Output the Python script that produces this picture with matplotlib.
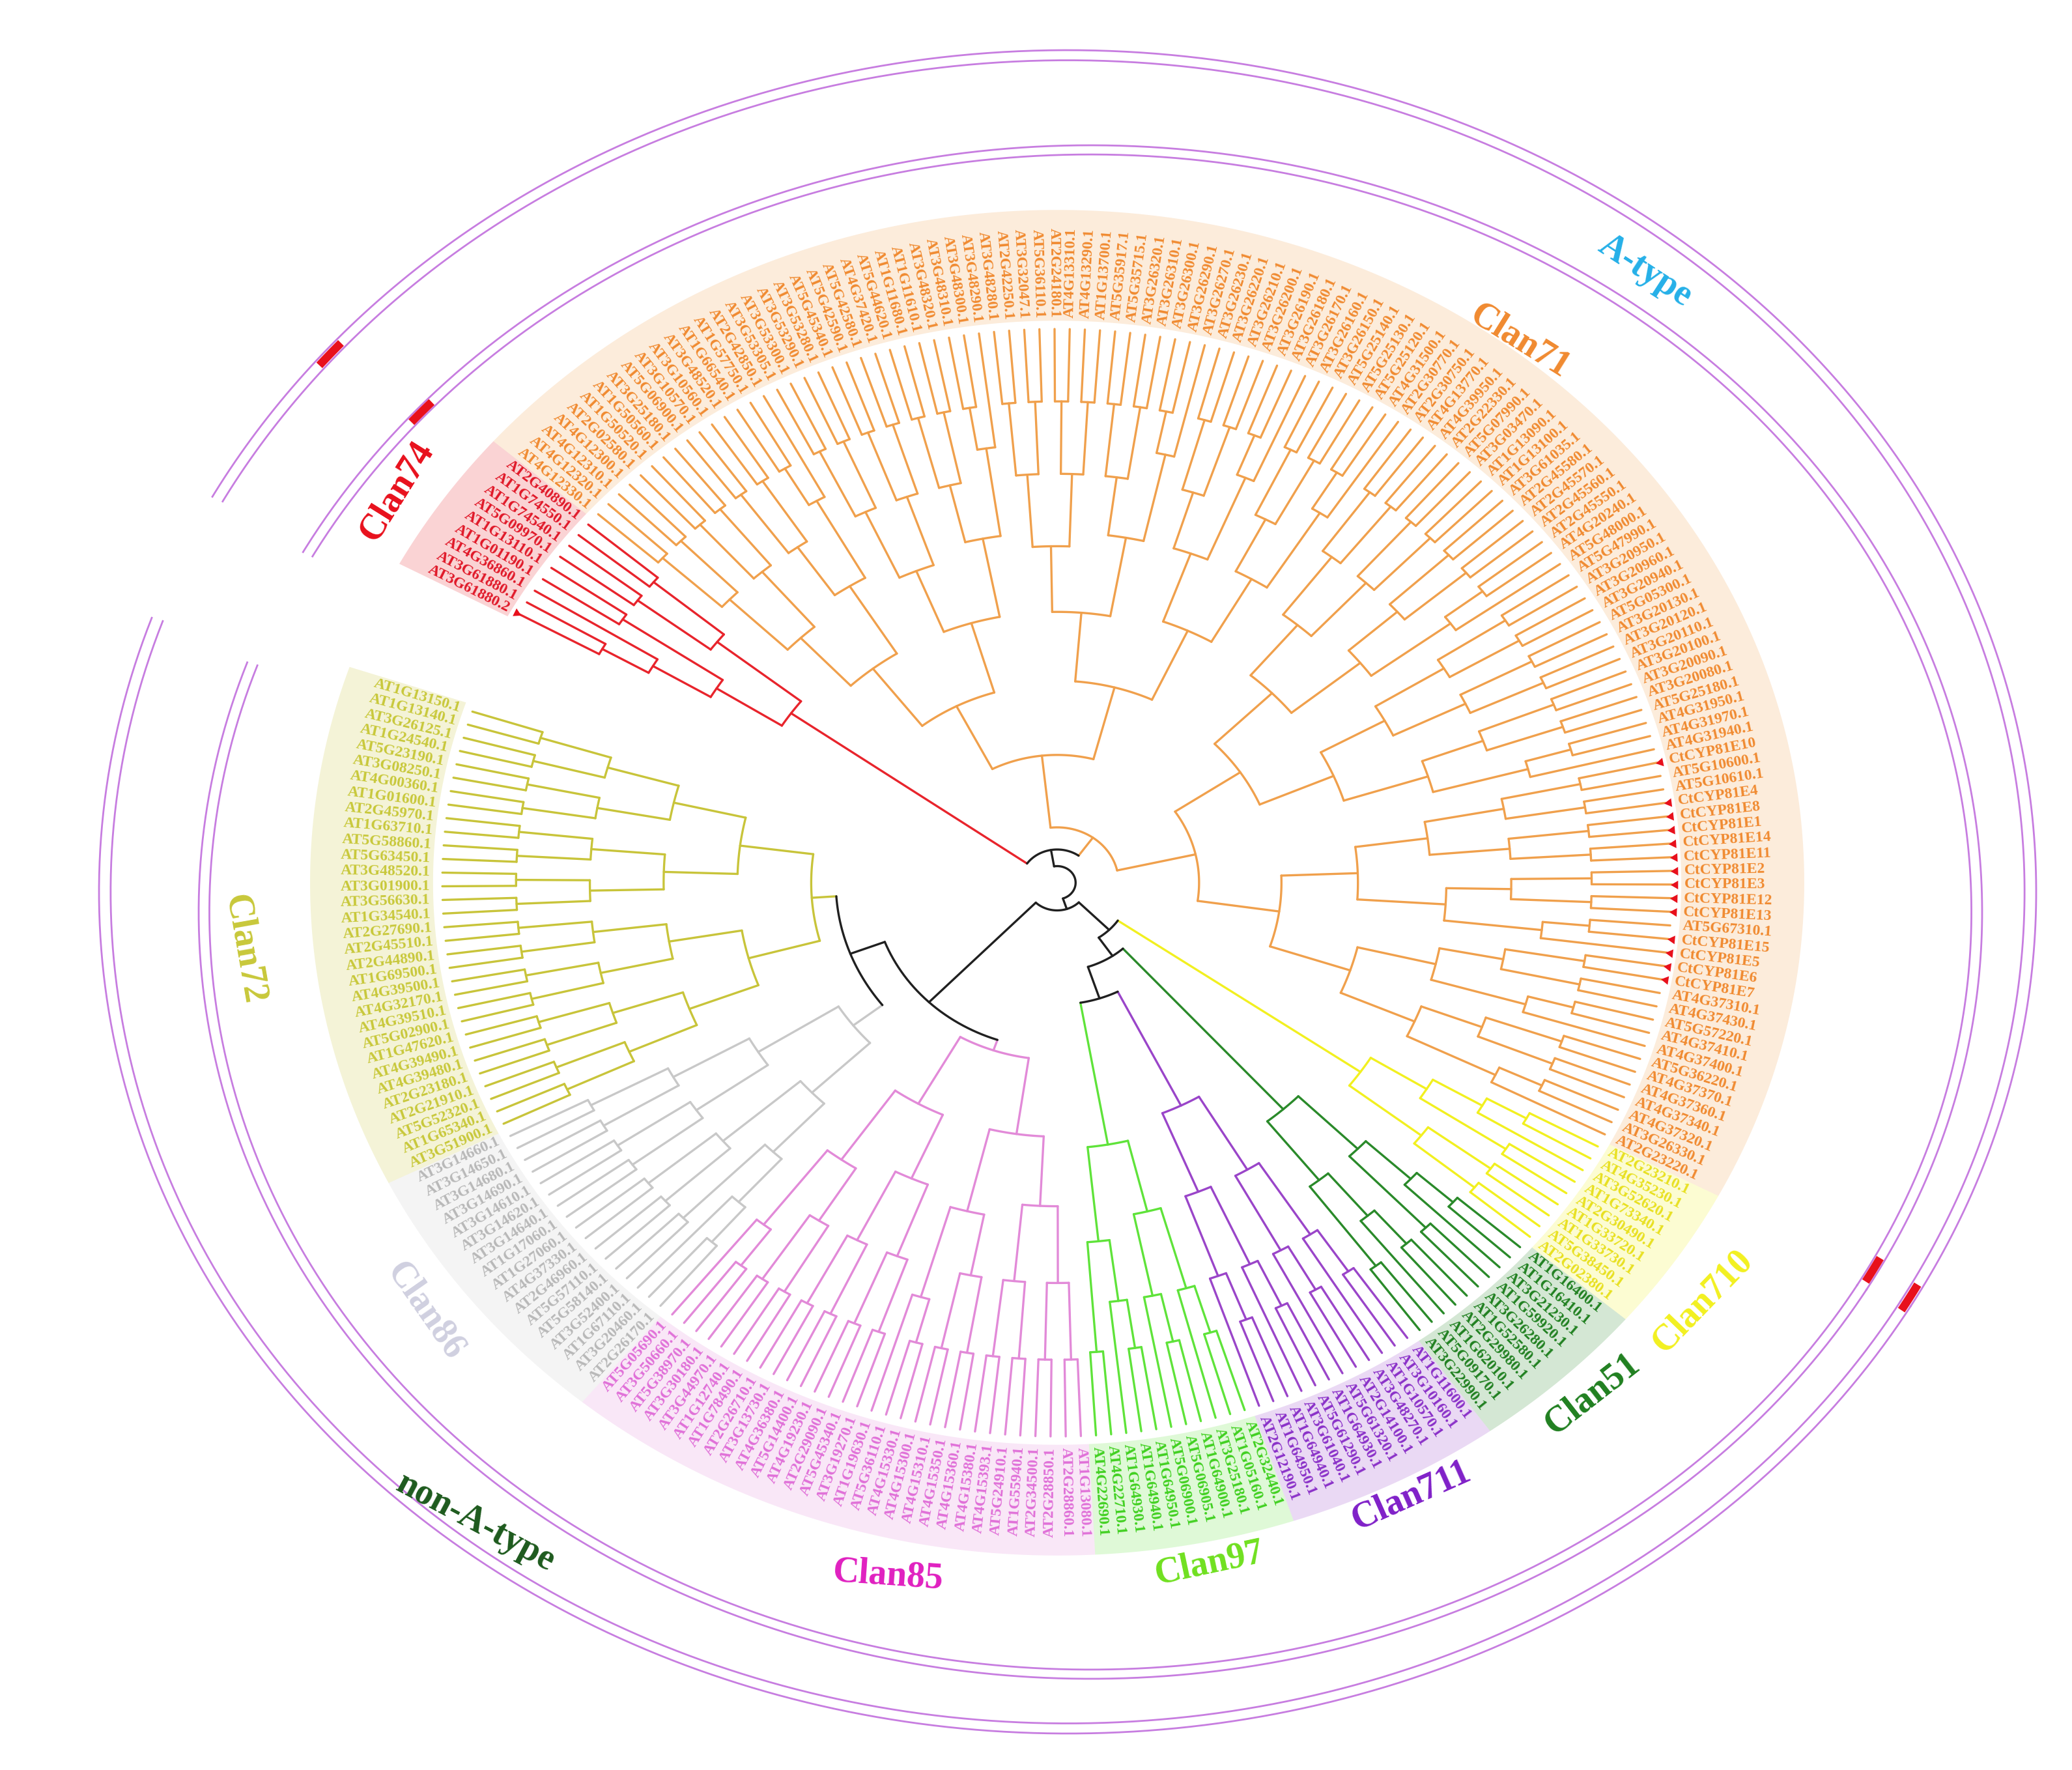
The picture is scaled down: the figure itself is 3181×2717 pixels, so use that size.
import numpy as np
import matplotlib
matplotlib.use("Agg")
import matplotlib.pyplot as plt

# ---- leaf labels per clan, listed counter-clockwise ----
CLAN72 = ["AT1G13150.1", "AT1G13140.1", "AT3G26125.1", "AT1G24540.1", "AT5G23190.1", "AT3G08250.1",
          "AT4G00360.1", "AT1G01600.1", "AT2G45970.1", "AT1G63710.1", "AT5G58860.1", "AT5G63450.1",
          "AT3G48520.1", "AT3G01900.1", "AT3G56630.1", "AT1G34540.1", "AT2G27690.1", "AT2G45510.1",
          "AT2G44890.1", "AT1G69500.1", "AT4G39500.1", "AT4G32170.1", "AT4G39510.1", "AT5G02900.1",
          "AT1G47620.1", "AT4G39490.1", "AT4G39480.1", "AT2G23180.1", "AT2G21910.1", "AT5G52320.1",
          "AT1G65340.1", "AT3G51900.1"]
CLAN86 = ["AT3G14660.1", "AT3G14650.1", "AT3G14680.1", "AT3G14690.1", "AT3G14610.1", "AT3G14620.1",
          "AT3G14640.1", "AT1G17060.1", "AT1G27060.1", "AT4G37330.1", "AT2G46960.1", "AT5G57110.1",
          "AT5G58140.1", "AT3G52400.1", "AT1G67110.1", "AT3G20460.1", "AT2G26170.1"]
CLAN85 = ["AT5G05690.1", "AT3G50660.1", "AT5G38970.1", "AT3G30180.1", "AT3G44970.1", "AT1G12740.1",
          "AT1G78490.1", "AT2G26710.1", "AT3G13730.1", "AT4G36380.1", "AT5G14400.1", "AT4G19230.1",
          "AT2G29090.1", "AT5G45340.1", "AT3G19270.1", "AT1G19630.1", "AT5G36110.1", "AT4G15330.1",
          "AT4G15300.1", "AT4G15310.1", "AT4G15350.1", "AT4G15360.1", "AT4G15380.1", "AT4G15393.1",
          "AT5G24910.1", "AT1G55940.1", "AT2G34500.1", "AT2G28850.1", "AT2G28860.1", "AT1G13080.1"]
CLAN97 = ["AT4G22690.1", "AT4G22710.1", "AT1G64930.1", "AT1G64940.1", "AT1G64950.1", "AT5G06900.1",
          "AT5G06905.1", "AT1G64900.1", "AT3G25180.1", "AT1G05160.1", "AT2G32440.1"]
CLAN711 = ["AT2G12190.1", "AT1G64950.1", "AT1G64940.1", "AT3G61040.1", "AT5G61290.1", "AT1G64930.1",
           "AT5G61320.1", "AT2G14100.1", "AT3G48270.1", "AT1G10570.1", "AT3G10160.1", "AT1G11600.1"]
CLAN51 = ["AT3G22990.1", "AT5G09170.1", "AT1G62010.1", "AT2G29980.1", "AT1G52580.1", "AT3G26280.1",
          "AT1G59920.1", "AT3G21230.1", "AT1G16410.1", "AT1G16400.1"]
CLAN710 = ["AT2G02380.1", "AT5G38450.1", "AT1G33730.1", "AT1G33720.1", "AT2G30490.1", "AT1G73340.1",
           "AT3G52620.1", "AT4G35230.1", "AT2G23210.1"]
CLAN71 = ["AT2G23220.1", "AT3G26330.1", "AT4G37320.1", "AT4G37340.1", "AT4G37360.1", "AT4G37370.1",
          "AT5G36220.1", "AT4G37400.1", "AT4G37410.1", "AT5G57220.1", "AT4G37430.1", "AT4G37310.1",
          "CtCYP81E7", "CtCYP81E6", "CtCYP81E5", "CtCYP81E15", "AT5G67310.1", "CtCYP81E13",
          "CtCYP81E12", "CtCYP81E3", "CtCYP81E2", "CtCYP81E11", "CtCYP81E14", "CtCYP81E1",
          "CtCYP81E8", "CtCYP81E4", "AT5G10610.1", "AT5G10600.1", "CtCYP81E10", "AT4G31940.1",
          "AT4G31970.1", "AT4G31950.1", "AT5G25180.1", "AT3G20080.1", "AT3G20090.1", "AT3G20100.1",
          "AT3G20110.1", "AT3G20120.1", "AT3G20130.1", "AT5G05300.1", "AT3G20940.1", "AT3G20960.1",
          "AT3G20950.1", "AT5G47990.1", "AT5G48000.1", "AT4G20240.1", "AT2G45550.1", "AT2G45560.1",
          "AT2G45570.1", "AT2G45580.1", "AT3G61035.1", "AT1G13100.1", "AT1G13090.1", "AT3G03470.1",
          "AT5G07990.1", "AT2G22330.1", "AT4G39950.1", "AT4G13770.1", "AT2G30750.1", "AT2G30770.1",
          "AT4G31500.1", "AT5G25120.1", "AT5G25130.1", "AT5G25140.1", "AT3G26150.1", "AT3G26160.1",
          "AT3G26170.1", "AT3G26180.1", "AT3G26190.1", "AT3G26200.1", "AT3G26210.1", "AT3G26220.1",
          "AT3G26230.1", "AT3G26270.1", "AT3G26290.1", "AT3G26300.1", "AT3G26310.1", "AT3G26320.1",
          "AT5G35715.1", "AT5G35917.1", "AT1G13700.1", "AT4G13290.1", "AT4G13310.1", "AT2G24180.1",
          "AT5G36110.1", "AT3G32047.1", "AT2G42250.1", "AT3G48280.1", "AT3G48290.1", "AT3G48300.1",
          "AT3G48310.1", "AT3G48320.1", "AT1G11610.1", "AT1G11680.1", "AT5G44620.1", "AT4G37420.1",
          "AT5G42580.1", "AT5G42590.1", "AT5G45340.1", "AT3G53280.1", "AT3G53290.1", "AT3G53300.1",
          "AT3G53305.1", "AT2G42850.1", "AT1G57750.1", "AT1G66540.1", "AT3G48520.1", "AT3G10560.1",
          "AT3G10570.1", "AT5G06900.1", "AT3G25180.1", "AT1G50560.1", "AT1G50520.1", "AT2G02580.1",
          "AT4G12300.1", "AT4G12310.1", "AT4G12320.1", "AT4G12330.1"]
CLAN74 = ["AT2G40890.1", "AT1G74550.1", "AT1G74540.1", "AT5G09970.1", "AT1G13110.1", "AT1G01190.1",
          "AT4G36860.1", "AT3G61880.1", "AT3G61880.2"]

NAMES = ["Clan72", "Clan86", "Clan85", "Clan97", "Clan711", "Clan51", "Clan710", "Clan71", "Clan74"]
LEAVES = [CLAN72, CLAN86, CLAN85, CLAN97, CLAN711, CLAN51, CLAN710, CLAN71, CLAN74]
LINE_C = ["#c8c43a", "#c8c8c8", "#e28ad8", "#5fe33a", "#9a45c9", "#2a8a2a", "#f2f020", "#f0a04c", "#e8242c"]
TEXT_C = ["#c8c83a", "#b8b8b8", "#e070d8", "#40d020", "#8a30c8", "#208020", "#e8e020", "#f08a30", "#e01828"]
ROOT_R = [0.40, 0.42, 0.32, 0.48, 0.45, 0.55, 0.60, 0.10, 0.53]   # clade crown radius
STEM_FROM = [0.36, 0.36, 0.30, 0.22, 0.22, 0.16, 0.12, 0.06, 0.06]

# geometry (original pixel space, y up)
W, H = 3181, 2717
TCX, TCY, TRX, TRY = 1623, 1362, 944, 850            # tree ellipse (r=1 at tips)
OCX, OCY, ORX, ORY = 1639, 1348, 1487, 1292          # outer ring
ICX, ICY, IRX, IRY = 1674, 1317, 1369, 1177          # inner ring


def pt(r, a, cx=TCX, cy=TCY, rx=TRX, ry=TRY):
    t = np.radians(a)
    return cx + r * rx * np.cos(t), cy + r * ry * np.sin(t)


fig = plt.figure(figsize=(W / 100, H / 100), dpi=100)
ax = fig.add_axes([0, 0, 1, 1])
ax.set_xlim(0, W); ax.set_ylim(0, H); ax.axis("off")

n_tot = sum(len(l) for l in LEAVES)
a0, a1 = 162.0, 511.0
step = (a1 - a0) / (n_tot - 1)


def arc(r, a_from, a_to, color, lw=2.4):
    aa = np.linspace(a_from, a_to, max(4, int(abs(a_to - a_from) * 3)))
    x, y = pt(r, aa)
    ax.plot(x, y, color=color, lw=lw, solid_capstyle="round")


def radial(a, r0, r1, color, lw=2.4):
    x, y = pt(np.array([r0, r1]), a)
    ax.plot(x, y, color=color, lw=lw, solid_capstyle="round")


def subtree(angles, r_root, N, color):
    """balanced split; returns angle of node"""
    n = len(angles)
    if n == 1:
        return angles[0]
    h = n // 2
    r_node = r_root if n == N else 1.0 - (1.0 - r_root) * (np.log(n) / np.log(N))
    kids = [angles[:h], angles[h:]]
    ka = []
    for k in kids:
        m = len(k)
        rk = 1.0 if m == 1 else 1.0 - (1.0 - r_root) * (np.log(m) / np.log(N))
        a = subtree(k, r_root, N, color)
        radial(a, r_node, rk, color)
        ka.append(a)
    arc(r_node, ka[0], ka[1], color)
    return 0.5 * (ka[0] + ka[1])


idx = 0
clade_mid = []
for ci, (name, leaves) in enumerate(zip(NAMES, LEAVES)):
    angs = [a0 + (idx + i) * step for i in range(len(leaves))]
    idx += len(leaves)
    # shaded label band
    aa = np.linspace(angs[0] - step / 2, angs[-1] + step / 2, 200)
    xi, yi = pt(1.015, aa); xo, yo = pt(1.215, aa)
    ax.fill(np.r_[xi, xo[::-1]], np.r_[yi, yo[::-1]], color=LINE_C[ci], alpha=0.2, lw=0)
    mid = subtree(angs, ROOT_R[ci], len(leaves), LINE_C[ci])
    clade_mid.append(mid)
    radial(mid, STEM_FROM[ci], ROOT_R[ci], LINE_C[ci])
    for a, lab in zip(angs, leaves):
        x, y = pt(1.02, a)
        sa = np.degrees(np.arctan2(TRY * np.sin(np.radians(a)), TRX * np.cos(np.radians(a))))
        if np.cos(np.radians(sa)) < 0:
            rot, ha = sa + 180, "right"
        else:
            rot, ha = sa, "left"
        ax.text(x, y, lab, rotation=rot, rotation_mode="anchor", ha=ha, va="center",
                fontsize=17, fontweight="bold", family=["Liberation Serif", "DejaVu Serif"],
                color=TEXT_C[ci])
        if lab.startswith("CtCYP") or lab == "AT3G61880.2":
            x, y = pt(1.005, a)
            ax.plot(x, y, marker=(3, 0, sa + 90), ms=11, color="#e8101c", mec="none")

# backbone (black): clade stems join here
mids = clade_mid
BB = "#202020"
arc(0.06, mids[7], mids[8], BB)            # Clan71 + Clan74
arc(0.12, mids[6], 0.5 * (mids[5] + mids[4]), BB)
arc(0.16, mids[5], 0.5 * (mids[4] + mids[3]), BB)
arc(0.22, mids[4], mids[3], BB)
arc(0.36, mids[1], mids[0], BB)
arc(0.30, mids[2], 0.5 * (mids[1] + mids[0]), BB)
radial(0.5 * (mids[1] + mids[0]), 0.30, 0.36, BB)
radial(0.5 * (mids[4] + mids[3]), 0.16, 0.22, BB)
radial(0.5 * (mids[5] + mids[4]), 0.12, 0.16, BB)
a_top = 0.5 * (mids[7] + mids[8])
a_rest = 0.5 * (mids[6] + mids[2])
arc(0.03, a_rest, a_top, BB)
radial(a_top, 0.03, 0.06, BB)
radial(0.5 * (mids[6] + 0.5 * (mids[5] + mids[4])), 0.05, 0.12, BB)
radial(0.5 * (mids[2] + 0.5 * (mids[1] + mids[0])), 0.05, 0.30, BB)
arc(0.05, 0.5 * (mids[2] + 0.5 * (mids[1] + mids[0])), 0.5 * (mids[6] + 0.5 * (mids[5] + mids[4])), BB)
radial(a_rest, 0.03, 0.05, BB)

# rings
RING = "#c77de0"
for cx, cy, rx, ry, marks in [(OCX, OCY, ORX, ORY, (140, -29)), (ICX, ICY, IRX, IRY, (139, -28))]:
    for s in (1.0, 0.988):
        for a_from, a_to in [(-29.5, 152), (161, 330.5)]:
            aa = np.linspace(a_from, a_to, 600)
            x, y = pt(s, aa, cx, cy, rx, ry)
            ax.plot(x, y, color=RING, lw=2.0)
    for m in marks:
        aa = np.linspace(m - 1.0, m + 1.0, 10)
        x, y = pt(0.994, aa, cx, cy, rx, ry)
        ax.plot(x, y, color="#e8101c", lw=9, solid_capstyle="butt")

# clade and group labels (display positions)
S = 3181 / 1568
LABS = [("Clan74", 300, 372, 58, "#e8101c"), ("Clan71", 1150, 258, -32, "#f08a30"),
        ("A-type", 1245, 205, -33, "#25b0e8"), ("Clan72", 185, 718, -80, "#c8c83a"),
        ("Clan86", 322, 992, -55, "#d0d0e0"), ("non-A-type", 360, 1152, -28, "#1d5a1d"),
        ("Clan85", 672, 1192, -4, "#e020c0"), ("Clan97", 915, 1183, 12, "#70e020"),
        ("Clan711", 1068, 1132, 24, "#8020c8"), ("Clan51", 1205, 1055, 38, "#208020"),
        ("Clan710", 1288, 985, 46, "#f2f020")]
for txt, x, y, rot, c in LABS:
    ax.text(x * S, H - y * S, txt, rotation=rot, ha="center", va="center", fontsize=40,
            fontweight="bold", family=["Liberation Serif", "DejaVu Serif"], color=c)

fig.savefig("out.png", dpi=100)
